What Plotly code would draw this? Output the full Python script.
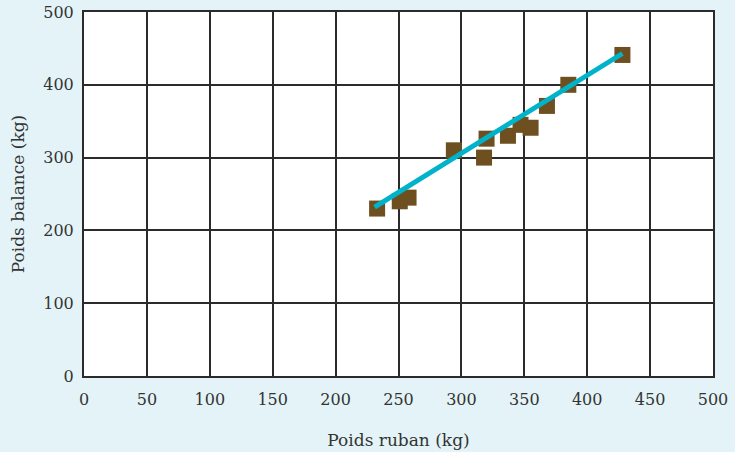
import plotly.graph_objects as go

# Data
ruban = [233, 251, 258, 294, 318, 320, 337, 347, 355, 368, 385, 428]
balance = [230, 240, 245, 310, 300, 326, 330, 345, 341, 371, 400, 441]
fit_x = [231, 428]
fit_y = [232, 443]
x_ticks = [0, 50, 100, 150, 200, 250, 300, 350, 400, 450, 500]
y_ticks = [0, 100, 200, 300, 400, 500]

font = "DejaVu Serif"
fig = go.Figure()
fig.add_trace(go.Scatter(x=ruban, y=balance, mode="markers",
                         marker=dict(symbol="square", size=16, color="#6e4f1f",
                                     line=dict(width=0)),
                         showlegend=False, cliponaxis=False))
fig.add_trace(go.Scatter(x=fit_x, y=fit_y, mode="lines",
                         line=dict(color="#00b3cb", width=5),
                         showlegend=False))

axis_common = dict(showgrid=True, gridcolor="#2b2b2b", gridwidth=1.5,
                   showline=True, linecolor="#2b2b2b", linewidth=2, mirror=True,
                   zeroline=False, ticks="", automargin=False,
                   tickfont=dict(family=font, size=16, color="#333"))
fig.update_xaxes(range=[0, 500], tickvals=x_ticks, ticktext=[str(v) for v in x_ticks],
                 ticklabelstandoff=8,
                 title=dict(text="Poids ruban (kg)", font=dict(family=font, size=17, color="#333"), standoff=26),
                 **axis_common)
fig.update_yaxes(range=[0, 500], tickvals=y_ticks, ticktext=[str(v) for v in y_ticks],
                 ticklabelstandoff=5,
                 title=dict(text="Poids balance (kg)", font=dict(family=font, size=17, color="#333"), standoff=14),
                 **axis_common)
fig.update_layout(width=735, height=452, margin=dict(l=84, r=22, t=12, b=76),
                  paper_bgcolor="#e4f3f7", plot_bgcolor="white")
fig.write_html("out.html", config={"displayModeBar": False},
               post_script="document.body.style.margin='0';document.body.style.background='#e4f3f7';")
